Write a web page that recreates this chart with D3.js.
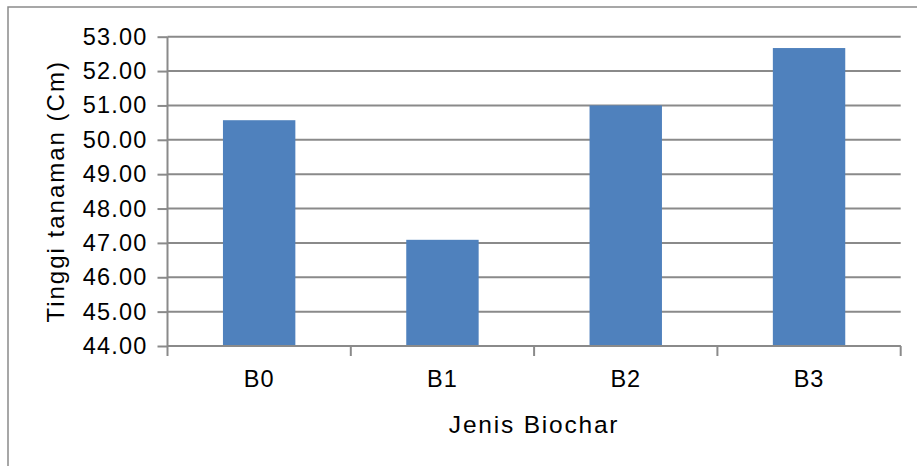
<!DOCTYPE html>
<html><head><meta charset="utf-8">
<script src="https://cdn.jsdelivr.net/npm/d3@7"></script>
<style>body{margin:0;background:#fff;} svg{display:block;font-family:"Liberation Sans",Arial,sans-serif;}</style>
</head><body><svg id="c" width="917" height="466"></svg>
<script>
const categories = ["B0","B1","B2","B3"];
const values = [50.57, 47.09, 51.0, 52.67];
const yTicks = [44,45,46,47,48,49,50,51,52,53];
const xTitle = "Jenis Biochar";
const yTitle = "Tinggi tanaman (Cm)";

const svg = d3.select("#c");
const L = 167.5, R = 900.7, T = 36.7, B = 346;
const gridCol = "#8a8a8a";

svg.append("rect").attr("x",8).attr("y",7).attr("width",920).attr("height",470)
  .attr("fill","#fff").attr("stroke","#8a8a8a").attr("stroke-width",1.5);

const x = d3.scaleBand().domain(categories).range([L,R]).paddingInner(0).paddingOuter(0);
const y = d3.scaleLinear().domain([44,53]).range([B,T]);

// gridlines
svg.append("g").selectAll("line").data(yTicks).join("line")
  .attr("x1",L).attr("x2",R).attr("y1",d=>y(d)).attr("y2",d=>y(d))
  .attr("stroke",gridCol).attr("stroke-width",2);

// bars
const bw = x.bandwidth()*0.395;
svg.append("g").selectAll("rect").data(values).join("rect")
  .attr("x",(d,i)=>x(categories[i])+x.bandwidth()/2-bw/2)
  .attr("width",bw)
  .attr("y",d=>y(d)).attr("height",d=>y(44)-y(d))
  .attr("fill","#4F81BD");

// y axis
const yAxis = d3.axisLeft(y).tickValues(yTicks).tickFormat(d3.format(".2f")).tickSize(10).tickPadding(10);
const gy = svg.append("g").attr("transform",`translate(${L},0)`).call(yAxis);
gy.select(".domain").attr("stroke",gridCol).attr("stroke-width",2).attr("d",`M0,${T}V${B}`);
gy.selectAll(".tick line").attr("stroke",gridCol).attr("stroke-width",2);
gy.selectAll(".tick text").attr("font-size",23.5).attr("fill","#000").style("letter-spacing","1.2px")
  .attr("font-family","'Liberation Sans',Arial,sans-serif");

// x axis: ticks at band boundaries
const gx = svg.append("g").attr("transform",`translate(0,${B})`);
gx.append("line").attr("x1",L).attr("x2",R).attr("stroke",gridCol).attr("stroke-width",2);
const bounds = categories.map(c=>x(c)).concat([x(categories[categories.length-1])+x.bandwidth()]);
gx.selectAll("line.t").data(bounds).join("line").attr("class","t")
  .attr("x1",d=>d).attr("x2",d=>d).attr("y1",0).attr("y2",10)
  .attr("stroke",gridCol).attr("stroke-width",2);
gx.selectAll("text").data(categories).join("text")
  .attr("x",d=>x(d)+x.bandwidth()/2).attr("y",41)
  .attr("text-anchor","middle").attr("font-size",23.5).attr("fill","#000")
  .style("letter-spacing","1px").text(d=>d);

// titles
svg.append("text").attr("x",(L+R)/2).attr("y",433).attr("text-anchor","middle")
  .attr("font-size",24.5).attr("fill","#000").style("letter-spacing","1.8px").text(xTitle);
svg.append("text").attr("transform",`translate(64,${(T+B)/2}) rotate(-90)`).attr("text-anchor","middle")
  .attr("font-size",24).attr("fill","#000").style("letter-spacing","2px").text(yTitle);
</script></body></html>
